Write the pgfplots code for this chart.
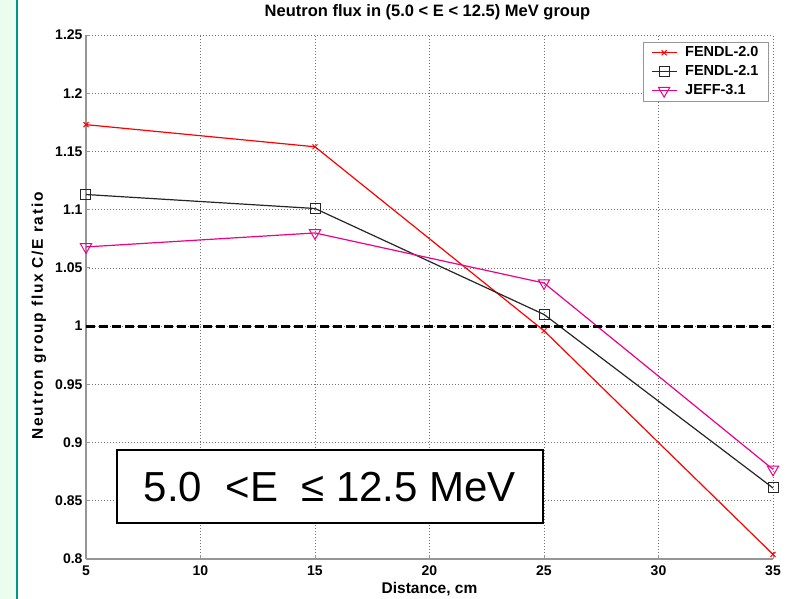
\documentclass[border=0pt]{standalone}
\usepackage{fontspec}
\setmainfont{Liberation Sans}
\usepackage{pgfplots}
\pgfplotsset{compat=1.18}
\definecolor{panel}{RGB}{236,252,238}
\definecolor{tealline}{RGB}{0,150,140}
\definecolor{axgray}{RGB}{150,150,150}
\begin{document}
\begin{tikzpicture}
\useasboundingbox (0,0) rectangle (796pt,599pt);
\fill[white] (0,0) rectangle (796pt,599pt);
\fill[panel] (0,0) rectangle (16.7pt,599pt);
\draw[tealline, line width=1.6pt] (16.7pt,0) -- (16.7pt,599pt);
\begin{axis}[
  at={(86pt,40pt)}, anchor=south west,
  scale only axis, width=687pt, height=524pt,
  xmin=5, xmax=35, ymin=0.8, ymax=1.25,
  clip=false,
  axis x line*=bottom, axis y line*=left,
  axis line style={axgray, line width=1.3pt},
  tick align=inside, major tick length=4pt,
  tick style={axgray, line width=0.8pt},
  grid=major,
  major grid style={black!55, line width=0.6pt, dash pattern=on 1pt off 2pt},
  xtick={5,10,15,20,25,30,35},
  xticklabels={5,10,15,20,25,30,35},
  ytick={0.8,0.85,0.9,0.95,1,1.05,1.1,1.15,1.2,1.25},
  yticklabels={0.8,0.85,0.9,0.95,1,1.05,1.1,1.15,1.2,1.25},
  /pgf/number format/assume math mode=true,
  ticklabel style={font=\bfseries\fontsize{14}{14}\selectfont},
  xticklabel style={yshift=-3pt},
  title={Neutron flux in (5.0 < E < 12.5) MeV group},
  title style={font=\bfseries\fontsize{16.5}{16.5}\selectfont, at={(axis description cs:0.497,1)}, anchor=base, yshift=12pt},
  xlabel={Distance, cm},
  xlabel style={font=\bfseries\fontsize{15.5}{15.5}\selectfont, at={(axis description cs:0.5,0)}, anchor=base, yshift=-35pt},
  ylabel={\addfontfeature{LetterSpace=11}Neutron group flux C/E ratio},
  ylabel style={font=\bfseries\fontsize{15.5}{15.5}\selectfont, at={(axis description cs:-0.0684,0.464)}, anchor=center},
  legend style={at={(axis description cs:0.9942,0.9872)}, anchor=north east,
    draw=axgray, line width=1pt, fill=white,
    font=\bfseries\fontsize{14.5}{14.5}\selectfont,
    inner xsep=8pt, inner ysep=2pt, row sep=2pt, column sep=6pt,
    nodes={text height=10.5pt, text depth=2.5pt}},
  legend cell align=left,
  legend image code/.code={\draw[mark repeat=2,mark phase=2,#1] plot coordinates {(0pt,0pt) (12.5pt,0pt) (25pt,0pt)};},
]
\addplot[red, line width=1.2pt, mark=x, mark size=3.5pt, mark options={line width=1pt}]
  coordinates {(5,1.173) (15,1.154) (25,0.996) (35,0.804)};
\addlegendentry{FENDL-2.0}
\addplot[black!85, line width=1.2pt, mark=square, mark size=5pt, mark options={line width=1pt}]
  coordinates {(5,1.113) (15,1.101) (25,1.010) (35,0.861)};
\addlegendentry{FENDL-2.1}
\addplot[magenta, line width=1.2pt, mark=triangle, mark size=6.5pt, mark options={rotate=180, line width=1pt}]
  coordinates {(5,1.068) (15,1.080) (25,1.037) (35,0.877)};
\addlegendentry{JEFF-3.1}
\addplot[black, line width=3pt, dash pattern=on 9pt off 4pt, forget plot]
  coordinates {(5,1) (35,1)};
\node[draw=black, line width=2pt, fill=white, minimum width=425.7pt, minimum height=73.3pt,
  inner sep=0pt, anchor=north west, font=\fontsize{42}{42}\selectfont]
  at (rel axis cs:0.0437,0.21) {5.0\ \ <E\ \ ≤ 12.5 MeV};
\end{axis}
\end{tikzpicture}
\end{document}
